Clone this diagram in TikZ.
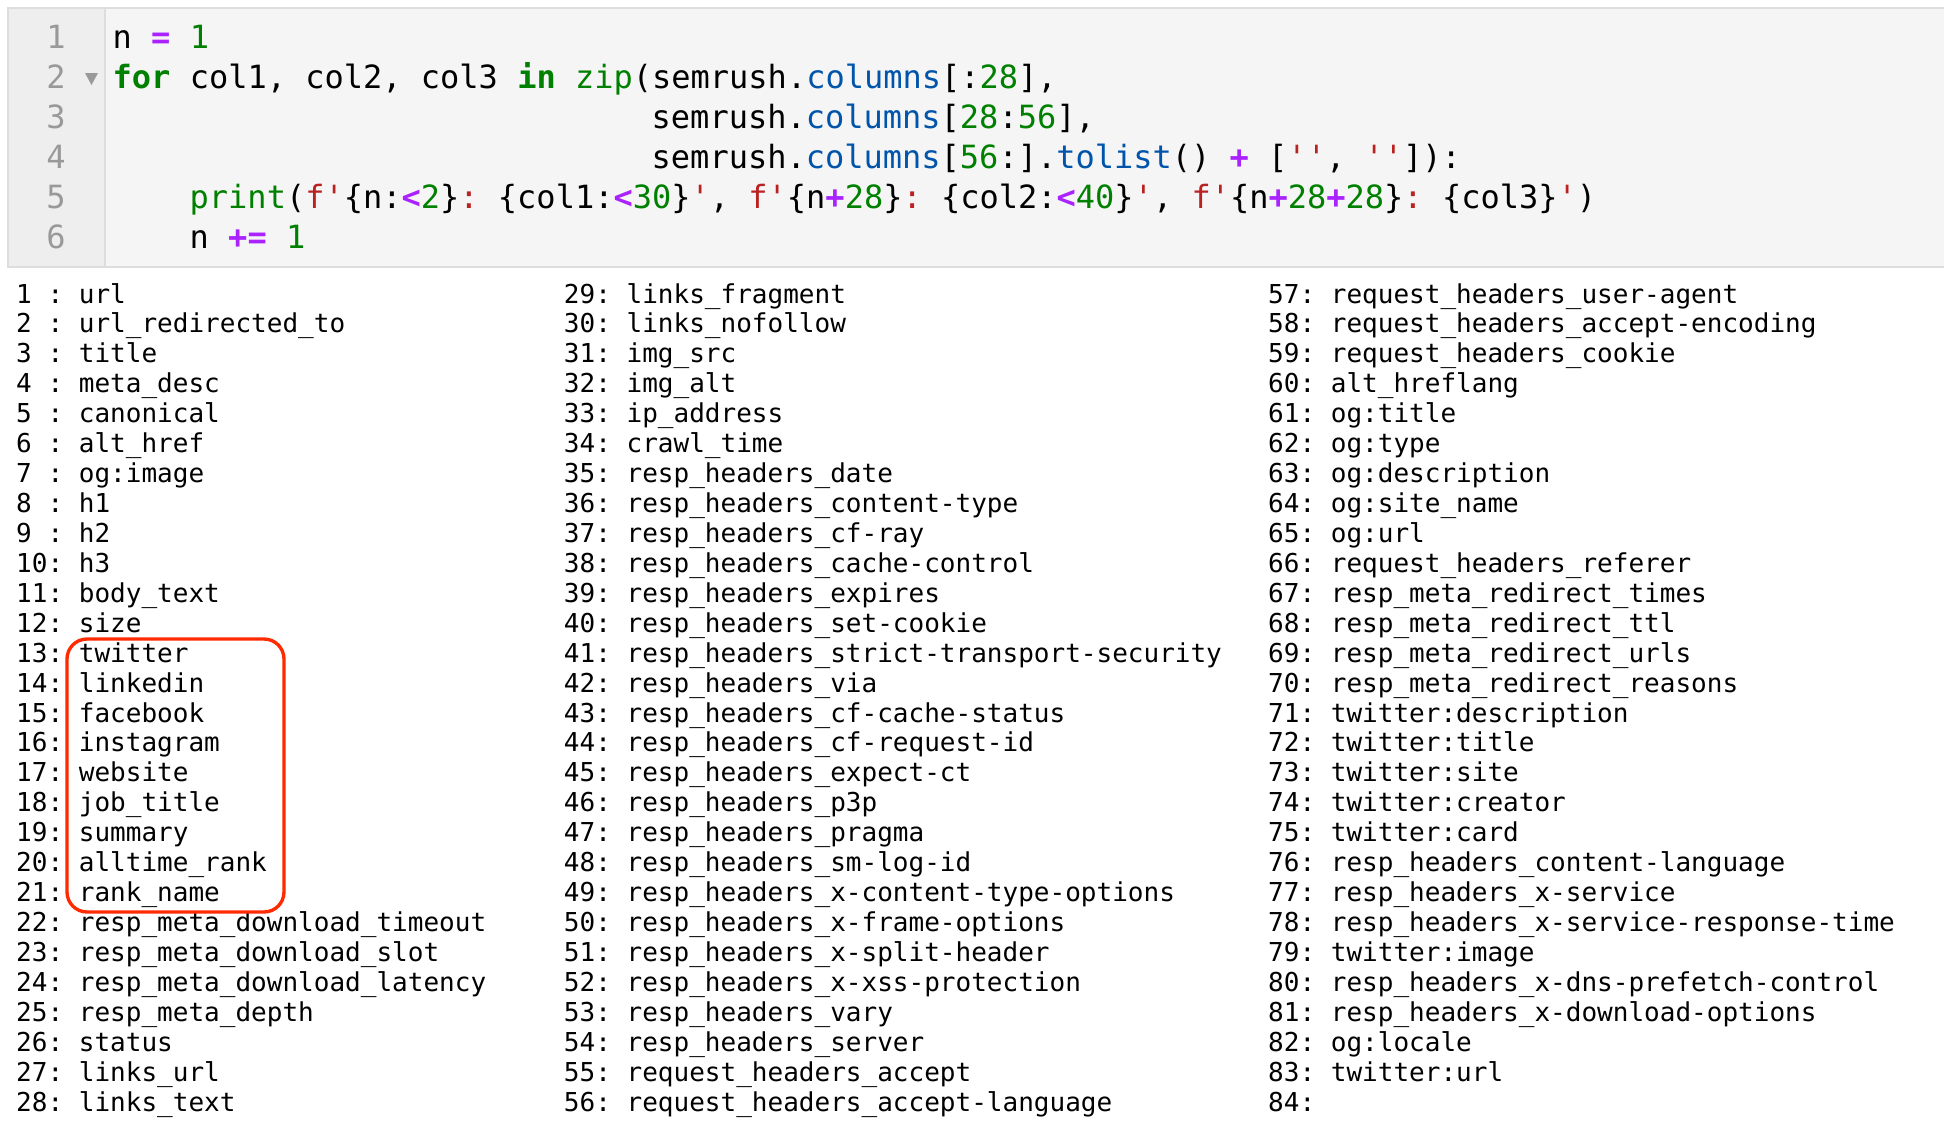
\documentclass[tikz,border=0pt]{standalone}
\usepackage{fontspec}
\setmonofont{DejaVu Sans Mono}
\frenchspacing

\definecolor{codebg}{HTML}{F5F5F5}
\definecolor{guttbg}{HTML}{EEEEEE}
\definecolor{cellline}{HTML}{DDDDDD}
\definecolor{lnogray}{HTML}{999999}
\definecolor{kwgreen}{HTML}{008000}
\definecolor{oppurple}{HTML}{AA22FF}
\definecolor{propblue}{HTML}{0055AA}
\definecolor{strred}{HTML}{BA2121}
\definecolor{boxred}{HTML}{FF2A00}

\newcommand{\ckw}[1]{\textcolor{kwgreen}{\bfseries #1}}
\newcommand{\cfn}[1]{\textcolor{kwgreen}{#1}}
\newcommand{\cnum}[1]{\textcolor{kwgreen}{#1}}
\newcommand{\cop}[1]{\textcolor{oppurple}{\bfseries #1}}
\newcommand{\cprop}[1]{\textcolor{propblue}{#1}}
\newcommand{\cstr}[1]{\textcolor{strred}{#1}}

\tikzset{
	codeline/.style={anchor=base west, inner sep=0pt, text=black, font=\ttfamily\fontsize{9.1}{11}\selectfont},
	lineno/.style={anchor=base, inner sep=0pt, text=lnogray, font=\ttfamily\fontsize{9.1}{11}\selectfont},
	outrow/.style={anchor=base west, inner sep=0pt, text=black, font=\ttfamily\fontsize{7.4}{9}\selectfont},
	redbox/.style={draw=boxred, line width=0.95pt, rounded corners=0.2cm},
}

\begin{document}
\begin{tikzpicture}[x=0.01cm, y=-0.01cm]
			\useasboundingbox (0,0) rectangle (1944,1142);
			\fill[codebg] (8,8) rectangle (1944,267);
			\fill[guttbg] (8,8) rectangle (105,267);
			\draw[cellline, line width=0.57pt] (1944,8) -- (8,8) -- (8,267) -- (1944,267);
			\draw[cellline, line width=0.43pt] (105,8) -- (105,267);
			\foreach \k in {1,...,6}
				\node (no\k)[lineno] at (56,{8+40*\k}) {\k};
			\fill[lnogray] (85,73) -- (98,73) -- (91.5,85) -- cycle;
			\node (line1)[codeline] at (112,48) {n \cop{=} \cnum{1}};
			\node (line2)[codeline] at (112,88) {\ckw{for} col1, col2, col3 \ckw{in} \cfn{zip}(semrush.\cprop{columns}[:\cnum{28}],};
			\node (line3)[codeline] at (651,128) {semrush.\cprop{columns}[\cnum{28}:\cnum{56}],};
			\node (line4)[codeline] at (651,168) {semrush.\cprop{columns}[\cnum{56}:].\cprop{tolist}() \cop{+} [\cstr{''}, \cstr{''}]):};
			\node (line5)[codeline] at (189,208) {\cfn{print}(\cstr{f'}\{n:\cop{<}\cnum{2}\}\cstr{: }\{col1:\cop{<}\cnum{30}\}\cstr{'}, \cstr{f'}\{n\cop{+}\cnum{28}\}\cstr{: }\{col2:\cop{<}\cnum{40}\}\cstr{'}, \cstr{f'}\{n\cop{+}\cnum{28}\cop{+}\cnum{28}\}\cstr{: }\{col3\}\cstr{'})};
			\node (line6)[codeline] at (189,248) {n \cop{+=} \cnum{1}};
			\foreach \t [count=\i] in {url, url\_redirected\_to, title, meta\_desc, canonical, alt\_href, og:image, h1, h2, h3, body\_text, size, twitter, linkedin, facebook, instagram, website, job\_title, summary, alltime\_rank, rank\_name, resp\_meta\_download\_timeout, resp\_meta\_download\_slot, resp\_meta\_download\_latency, resp\_meta\_depth, status, links\_url, links\_text}
				\node (c\i)[outrow] at (15.5,{303+29.93*(\i-1)}) {\ifnum\i<10 \i\ :\else\i:\fi\ \t};
			\foreach \t [count=\i from 29] in {links\_fragment, links\_nofollow, img\_src, img\_alt, ip\_address, crawl\_time, resp\_headers\_date, resp\_headers\_content-type, resp\_headers\_cf-ray, resp\_headers\_cache-control, resp\_headers\_expires, resp\_headers\_set-cookie, resp\_headers\_strict-transport-security, resp\_headers\_via, resp\_headers\_cf-cache-status, resp\_headers\_cf-request-id, resp\_headers\_expect-ct, resp\_headers\_p3p, resp\_headers\_pragma, resp\_headers\_sm-log-id, resp\_headers\_x-content-type-options, resp\_headers\_x-frame-options, resp\_headers\_x-split-header, resp\_headers\_x-xss-protection, resp\_headers\_vary, resp\_headers\_server, request\_headers\_accept, request\_headers\_accept-language}
				\node (c\i)[outrow] at (563.25,{303+29.93*(\i-29)}) {\i: \t};
			\foreach \t [count=\i from 57] in {request\_headers\_user-agent, request\_headers\_accept-encoding, request\_headers\_cookie, alt\_hreflang, og:title, og:type, og:description, og:site\_name, og:url, request\_headers\_referer, resp\_meta\_redirect\_times, resp\_meta\_redirect\_ttl, resp\_meta\_redirect\_urls, resp\_meta\_redirect\_reasons, twitter:description, twitter:title, twitter:site, twitter:creator, twitter:card, resp\_headers\_content-language, resp\_headers\_x-service, resp\_headers\_x-service-response-time, twitter:image, resp\_headers\_x-dns-prefetch-control, resp\_headers\_x-download-options, og:locale, twitter:url}
				\node (c\i)[outrow] at (1267.5,{303+29.93*(\i-57)}) {\i: \t};
			\node (c84)[outrow] at (1267.5,{303+29.93*27}) {84:};
			\draw[redbox] (67,639) rectangle (284,912);
		\end{tikzpicture}
\end{document}
